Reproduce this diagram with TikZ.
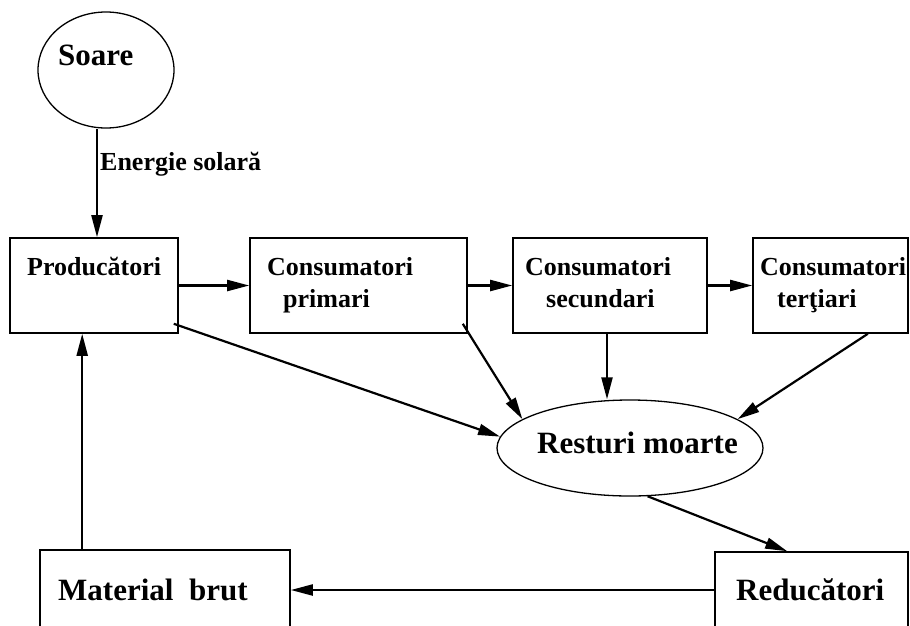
\documentclass[tikz,border=0pt]{standalone}
\usepackage{fontspec}
\setmainfont{Liberation Serif}
\usetikzlibrary{arrows.meta,shapes.geometric}

\begin{document}
\begin{tikzpicture}[x=1pt,y=-1pt,
  box/.style={draw, line width=1.6pt, inner sep=0pt},
  oval/.style={draw, ellipse, line width=1.3pt, inner sep=0pt},
  lbl/.style={font=\bfseries\fontsize{26}{30}\selectfont, inner sep=0pt, anchor=base west},
  big/.style={font=\bfseries\fontsize{31}{36}\selectfont, inner sep=0pt, anchor=base west},
  arr/.style={-{Triangle[length=22pt,width=11pt]}, line width=2.2pt}]
  \useasboundingbox (0,0) rectangle (910,625);
  \clip (0,0) rectangle (910,625);

  % Sun and the energy flow
  \node[oval, minimum width=136, minimum height=116] (soare) at (106,70) {};
  \node[big] (soaret) at (58,65) {Soare};
  \node[lbl] (energie) at (100,170) {Energie solară};

  % Trophic chain
  \node[box, minimum width=168, minimum height=95] (prod) at (94,285.5) {};
  \node[lbl] (prodt) at (27,275) {Producători};
  \node[box, minimum width=217, minimum height=95] (prim) at (358.5,285.5) {};
  \node[lbl] (primt1) at (267,275) {Consumatori};
  \node[lbl] (primt2) at (283,307) {primari};
  \node[box, minimum width=194, minimum height=95] (sec) at (610,285.5) {};
  \node[lbl] (sect1) at (525,275) {Consumatori};
  \node[lbl] (sect2) at (546,307) {secundari};
  \node[box, minimum width=155, minimum height=95] (ter) at (830.5,285.5) {};
  \node[lbl] (tert1) at (760,275) {Consumatori};
  \node[lbl] (tert2) at (777,307) {terţiari};

  % Dead matter
  \node[oval, minimum width=266, minimum height=96] (rest) at (630,448) {};
  \node[big] (restt) at (537,453) {Resturi moarte};

  % Bottom row
  \node[box, minimum width=250, minimum height=80] (mat) at (165,590) {};
  \node[big] (matt) at (58,600) {Material\ \ brut};
  \node[box, minimum width=193, minimum height=76] (red) at (811.5,590) {};
  \node[big] (redt) at (736,600) {Reducători};

  % Connectors
  \draw[arr] ([xshift=-9]soare.south) -- ([xshift=-9]soare.south |- prod.north);
  \draw[arr] (prod.east) -- (prim.west);
  \draw[arr] (prim.east) -- (sec.west);
  \draw[arr] (sec.east) -- (ter.west);
  \draw[arr] ([xshift=-5,yshift=10]prod.south east) -- (rest.175);
  \draw[arr] ([xshift=-5,yshift=10]prim.south east) -- (rest.165);
  \draw[arr] ([xshift=-3]sec.south) -- ([xshift=-3]sec.south |- rest.north);
  \draw[arr] ([xshift=-41]ter.south east) -- (rest.15);
  \draw[arr] (rest.-70) -- ([xshift=73]red.north west);
  \draw[arr] (red.west) -- (mat.east);
  \draw[arr] ([xshift=43]mat.north west) -- ([xshift=43]mat.north west |- prod.south);
\end{tikzpicture}
\end{document}
